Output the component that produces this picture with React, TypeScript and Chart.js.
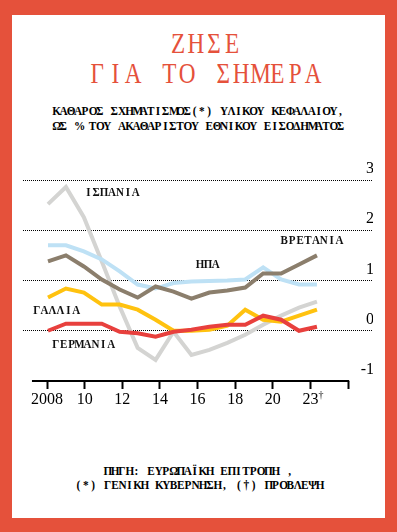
import React, { useEffect, useRef } from "react";
import { Chart, registerables } from "chart.js";

Chart.register(...registerables);

// ---- data ----
const years = [2008, 2009, 2010, 2011, 2012, 2013, 2014, 2015, 2016, 2017, 2018, 2019, 2020, 2021, 2022, 2023];
const spain = [2.52, 2.86, 2.26, 1.38, 0.48, -0.34, -0.58, -0.02, -0.48, -0.38, -0.24, -0.08, 0.12, 0.3, 0.46, 0.58];
const usa = [1.7, 1.7, 1.58, 1.42, 1.18, 0.92, 0.84, 0.95, 0.98, 0.99, 1.0, 1.02, 1.26, 1.02, 0.92, 0.92];
const uk = [1.38, 1.5, 1.28, 1.02, 0.82, 0.66, 0.88, 0.78, 0.64, 0.76, 0.8, 0.86, 1.14, 1.14, 1.32, 1.5];
const france = [0.66, 0.84, 0.76, 0.52, 0.52, 0.42, 0.22, 0.0, 0.0, 0.02, 0.1, 0.42, 0.22, 0.18, 0.3, 0.42];
const germany = [0.0, 0.14, 0.14, 0.14, -0.02, -0.05, -0.12, -0.02, 0.02, 0.08, 0.12, 0.12, 0.3, 0.22, 0.0, 0.08];

const xTickLabels = ["2008", "10", "12", "14", "16", "18", "20", "23", ""];
const forecastMark = "†";
const yTickValues = [3, 2, 1, 0, -1];

const seriesNames = ["ΓΕΡΜΑΝΙΑ", "ΓΑΛΛΙΑ", "ΒΡΕΤΑΝΙΑ", "ΗΠΑ", "ΙΣΠΑΝΙΑ"];

// in-chart series labels (anchored in data space)
const lineLabels = ["ΙΣΠΑΝΙΑ", "ΗΠΑ", "ΒΡΕΤΑΝΙΑ", "ΓΑΛΛΙΑ", "ΓΕΡΜΑΝΙΑ"];
const lineLabelYears = [2011.57, 2016.92, 2022.72, 2008.47, 2009.98];
const lineLabelValues = [2.74, 1.32, 1.8, 0.4, -0.28];

const TITLE1 = "ΖΗΣΕ";
const TITLE2 = "ΓΙΑ ΤΟ ΣΗΜΕΡΑ";
const SUB1 = "ΚΑΘΑΡΟΣ ΣΧΗΜΑΤΙΣΜΟΣ(*) ΥΛΙΚΟΥ ΚΕΦΑΛΑΙΟΥ,";
const SUB2 = "ΩΣ % ΤΟΥ ΑΚΑΘΑΡΙΣΤΟΥ ΕΘΝΙΚΟΥ ΕΙΣΟΔΗΜΑΤΟΣ";
const SRC1 = "ΠΗΓΗ: ΕΥΡΩΠΑΪΚΗ ΕΠΙΤΡΟΠΗ ,";
const SRC2 = "(*) ΓΕΝΙΚΗ ΚΥΒΕΡΝΗΣΗ, (†) ΠΡΟΒΛΕΨΗ";

// ---- styles ----
const RED = "#E5513B";
const COLORS = ["#E8403D", "#FFC20F", "#8B7E6C", "#BEE1F5", "#D4D4D2"];
const SERIF = '"Liberation Serif", "Times New Roman", serif';

function MonoLine(props: {
  text: string;
  top: number;
  center: number;
  size: number;
  lh: number;
  cell: number;
  color: string;
  weight: string;
  sx: number;
}) {
  const { text, top, center, size, lh, cell, color, weight, sx } = props;
  return (
    <div
      style={{
        position: "absolute",
        left: center - 200,
        width: 400,
        top,
        height: lh,
        display: "flex",
        justifyContent: "center",
        fontFamily: SERIF,
        fontSize: size,
        lineHeight: lh + "px",
        color,
        fontWeight: weight as any,
        whiteSpace: "pre",
      }}
    >
      <div style={{ display: "flex", transform: `scaleX(${sx})` }}>
        {Array.from(text).map((ch, i) => (
          <span key={i} style={{ display: "inline-block", width: cell / sx, textAlign: "center" }}>
            {ch}
          </span>
        ))}
      </div>
    </div>
  );
}

const overlayPlugin = {
  id: "overlay",
  afterDatasetsDraw(chart: any) {
    const { ctx, chartArea, scales } = chart;
    const xs = scales.x;
    const ys = scales.y;
    const xt = scales.xt;
    ctx.save();
    // bottom axis line
    const x0 = xt.getPixelForValue(-0.4);
    const x1 = xt.getPixelForValue(8.03);
    ctx.fillStyle = "#000";
    ctx.fillRect(x0, chartArea.bottom - 1, x1 - x0, 2);
    // forecast dagger next to last labelled tick
    const fx = xt.getPixelForValue(7);
    ctx.font = '10px "Liberation Serif"';
    ctx.textAlign = "left";
    ctx.textBaseline = "middle";
    ctx.fillText(forecastMark, fx + 8, chartArea.bottom + 14);
    // series labels
    ctx.font = 'bold 12.5px "Liberation Serif"';
    ctx.textAlign = "center";
    ctx.textBaseline = "middle";
    ctx.fillStyle = "#111";
    const cell = 7.9;
    const sx = 0.88;
    lineLabels.forEach((t, i) => {
      const cx = xs.getPixelForValue(lineLabelYears[i]);
      const cy = ys.getPixelForValue(lineLabelValues[i]);
      const chars = Array.from(t);
      const n = chars.length;
      chars.forEach((ch, j) => {
        const px = cx + (j - (n - 1) / 2) * cell;
        ctx.save();
        ctx.translate(px, cy);
        ctx.scale(sx, 1);
        ctx.fillText(ch, 0, 0);
        ctx.restore();
      });
    });
    ctx.restore();
  },
};

export default function App() {
  const ref = useRef<HTMLCanvasElement | null>(null);

  useEffect(() => {
    if (!ref.current) return;
    const seriesValues = [germany, france, uk, usa, spain];
    const chart = new Chart(ref.current, {
      type: "line",
      data: {
        datasets: seriesValues.map((vals, k) => ({
          label: seriesNames[k],
          data: years.map((yr, i) => ({ x: yr, y: vals[i] })),
          borderColor: COLORS[k],
          backgroundColor: COLORS[k],
          borderWidth: 4,
          pointRadius: 0,
          tension: 0,
          order: k,
          xAxisID: "x",
          yAxisID: "y",
        })),
      },
      options: {
        animation: false,
        responsive: false,
        maintainAspectRatio: false,
        devicePixelRatio: 1,
        layout: { padding: { top: 20, left: 0, right: 0, bottom: 0 } },
        plugins: { legend: { display: false }, tooltip: { enabled: false } },
        scales: {
          x: { type: "linear", display: false, min: 2006.606, max: 2026.126 },
          xt: {
            type: "linear",
            position: "bottom",
            min: -0.638,
            max: 8.663,
            afterBuildTicks: (s: any) => {
              s.ticks = xTickLabels.map((_, i) => ({ value: i }));
            },
            afterFit: (s: any) => {
              s.height = 39;
            },
            grid: {
              drawOnChartArea: false,
              drawTicks: true,
              tickLength: 8,
              tickWidth: 2,
              tickColor: "#000",
              color: "#000",
            },
            border: { display: false },
            ticks: {
              autoSkip: false,
              maxRotation: 0,
              padding: 1,
              color: "#000",
              font: { family: '"Liberation Serif"', size: 16 },
              callback: (v: any) => xTickLabels[Math.round(Number(v))],
            },
          },
          y: {
            position: "right",
            min: -1,
            max: 3,
            afterBuildTicks: (s: any) => {
              s.ticks = yTickValues.map((v) => ({ value: v }));
            },
            afterFit: (s: any) => {
              s.width = 0;
            },
            grid: {
              color: (c: any) => (c.tick && c.tick.value === -1 ? "rgba(0,0,0,0)" : "#000"),
              lineWidth: 1,
              drawTicks: false,
            },
            border: { display: false, dash: [1, 1] },
            ticks: {
              mirror: true,
              labelOffset: -11,
              padding: 1,
              color: "#000",
              font: { family: '"Liberation Serif"', size: 16 },
              callback: (v: any) => String(v),
            },
          },
        },
      } as any,
      plugins: [overlayPlugin],
    });
    return () => chart.destroy();
  }, []);

  return (
    <div
      style={{
        position: "absolute",
        left: 0,
        top: 0,
        width: 397,
        height: 532,
        background: RED,
        overflow: "hidden",
      }}
    >
      <div style={{ position: "absolute", left: 12, top: 15, width: 373, height: 503, background: "#fff" }} />
      <MonoLine text={TITLE1} top={27.8} center={205} size={29} lh={30} cell={18} color={RED} weight="normal" sx={0.8} />
      <MonoLine text={TITLE2} top={57.8} center={205} size={29} lh={30} cell={18} color={RED} weight="normal" sx={0.8} />
      <MonoLine text={SUB1} top={104} center={198.5} size={12.5} lh={15} cell={7.3} color="#000" weight="bold" sx={0.9} />
      <MonoLine text={SUB2} top={119} center={198.5} size={12.5} lh={15} cell={7.3} color="#000" weight="bold" sx={0.9} />
      <MonoLine text={SRC1} top={464} center={198.5} size={12.5} lh={14} cell={7.3} color="#000" weight="bold" sx={0.9} />
      <MonoLine text={SRC2} top={478} center={198.5} size={12.5} lh={14} cell={7.3} color="#000" weight="bold" sx={0.9} />
      <div style={{ position: "absolute", left: 23, top: 160, width: 350, height: 260 }}>
        <canvas ref={ref} width={350} height={260} style={{ display: "block", width: 350, height: 260 }} />
      </div>
    </div>
  );
}
